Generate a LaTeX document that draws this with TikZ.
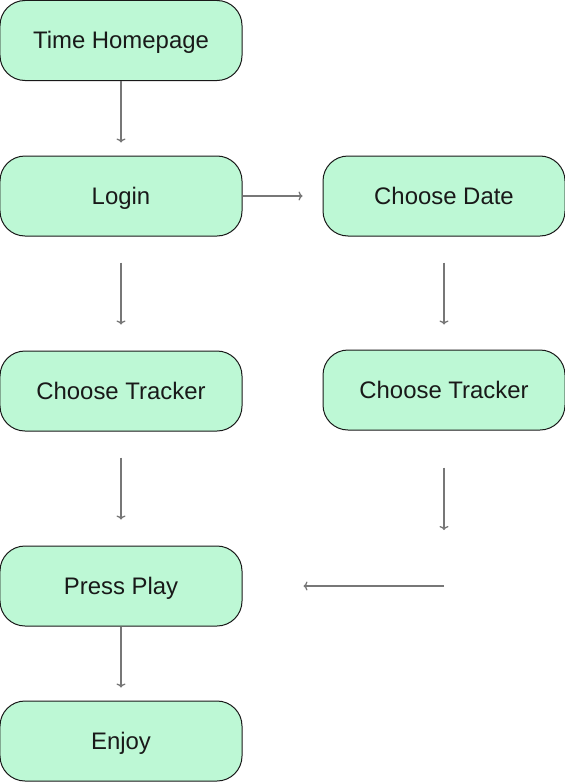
\documentclass[tikz,border=0pt]{standalone}
\usepackage{fontspec}
\setmainfont{Liberation Sans}
\usetikzlibrary{arrows.meta}

\definecolor{boxgreen}{HTML}{BDF8D5}
\definecolor{linkgray}{HTML}{777777}

\tikzset{
  box/.style={draw=black!90, line width=1bp, fill=boxgreen, rounded corners=25bp,
    minimum width=242bp, minimum height=80bp, inner sep=0pt,
    text height=17bp, text depth=0pt,
    font=\fontsize{24}{28}\selectfont, text=black!90},
  link/.style={draw=linkgray, line width=1.3bp, -{To[length=4bp,width=9bp]}}
}

\begin{document}
\begin{tikzpicture}[x=1bp, y=-1bp]
  \useasboundingbox (0,0) rectangle (565,782);

  % left column
  \node[box] (home)   at (121,40.5) {Time Homepage};
  \node[box] (login)  at (121,196)  {Login};
  \node[box] (trackL) at (121,391)  {Choose Tracker};
  \node[box] (press)  at (121,586)  {Press Play};
  \node[box] (enjoy)  at (121,741)  {Enjoy};

  % right column
  \node[box] (date)   at (444,196)  {Choose Date};
  \node[box] (trackR) at (444,390)  {Choose Tracker};
  \coordinate (bend) at (444,586);

  \draw[link, shorten >=13bp] (home.south) -- (login.north);
  \draw[link, shorten >=20bp] (login.east) -- (date.west);
  \draw[link, shorten <=26bp, shorten >=26bp] (login.south) -- (trackL.north);
  \draw[link, shorten <=26bp, shorten >=25bp] (date.south) -- (trackR.north);
  \draw[link, shorten <=26bp, shorten >=26bp] (trackL.south) -- (press.north);
  \draw[link, shorten <=37bp, shorten >=56bp] (trackR.south) -- (bend);
  \draw[link, shorten >=61bp] (bend) -- (press.east);
  \draw[link, shorten >=13bp] (press.south) -- (enjoy.north);
\end{tikzpicture}
\end{document}
